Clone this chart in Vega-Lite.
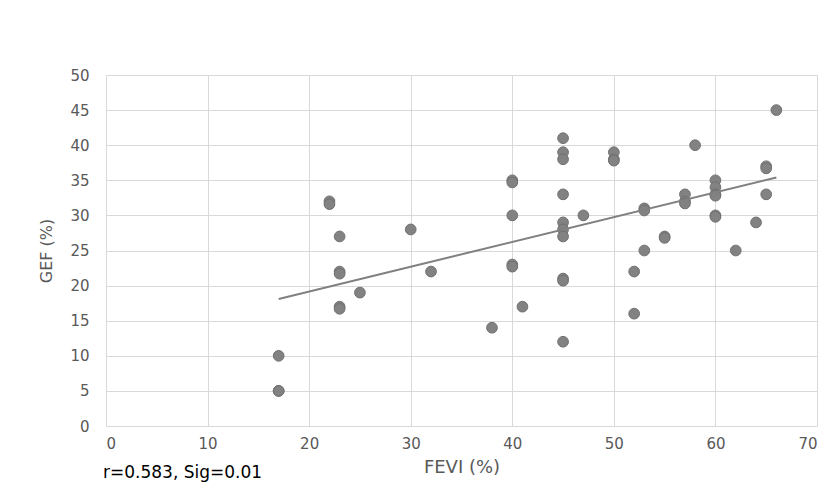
{
  "$schema": "https://vega.github.io/schema/vega-lite/v6.json",
  "autosize": "none",
  "width": 711,
  "height": 351,
  "padding": {"left": 106, "top": 75, "right": 21, "bottom": 77},
  "background": "white",
  "config": {
    "font": "DejaVu Sans",
    "view": {"stroke": null},
    "axis": {
      "labelFont": "DejaVu Sans",
      "titleFont": "DejaVu Sans",
      "labelColor": "#595959",
      "titleColor": "#595959",
      "labelFontSize": 15,
      "titleFontSize": 17,
      "titleFontWeight": "normal",
      "gridColor": "#d9d9d9",
      "gridWidth": 1,
      "domain": false,
      "ticks": false,
      "labelOverlap": false
    }
  },
  "datasets": {
    "pts": [
      {"FEVI": 17, "GEF": 10}, {"FEVI": 17, "GEF": 5}, {"FEVI": 17, "GEF": 5},
      {"FEVI": 22, "GEF": 32}, {"FEVI": 22, "GEF": 31.6},
      {"FEVI": 23, "GEF": 27}, {"FEVI": 23, "GEF": 22}, {"FEVI": 23, "GEF": 21.7},
      {"FEVI": 23, "GEF": 17}, {"FEVI": 23, "GEF": 16.7},
      {"FEVI": 25, "GEF": 19},
      {"FEVI": 30, "GEF": 28},
      {"FEVI": 32, "GEF": 22},
      {"FEVI": 38, "GEF": 14},
      {"FEVI": 40, "GEF": 35}, {"FEVI": 40, "GEF": 34.7}, {"FEVI": 40, "GEF": 30},
      {"FEVI": 40, "GEF": 23}, {"FEVI": 40, "GEF": 22.7},
      {"FEVI": 41, "GEF": 17},
      {"FEVI": 45, "GEF": 41}, {"FEVI": 45, "GEF": 39}, {"FEVI": 45, "GEF": 38},
      {"FEVI": 45, "GEF": 33}, {"FEVI": 45, "GEF": 29}, {"FEVI": 45, "GEF": 28},
      {"FEVI": 45, "GEF": 27}, {"FEVI": 45, "GEF": 21}, {"FEVI": 45, "GEF": 20.7},
      {"FEVI": 45, "GEF": 12},
      {"FEVI": 47, "GEF": 30},
      {"FEVI": 50, "GEF": 39}, {"FEVI": 50, "GEF": 38}, {"FEVI": 50, "GEF": 37.8},
      {"FEVI": 52, "GEF": 22}, {"FEVI": 52, "GEF": 16},
      {"FEVI": 53, "GEF": 31}, {"FEVI": 53, "GEF": 30.7}, {"FEVI": 53, "GEF": 25},
      {"FEVI": 55, "GEF": 27}, {"FEVI": 55, "GEF": 26.8},
      {"FEVI": 57, "GEF": 33}, {"FEVI": 57, "GEF": 32}, {"FEVI": 57, "GEF": 31.7},
      {"FEVI": 58, "GEF": 40},
      {"FEVI": 60, "GEF": 35}, {"FEVI": 60, "GEF": 34}, {"FEVI": 60, "GEF": 33},
      {"FEVI": 60, "GEF": 32.8}, {"FEVI": 60, "GEF": 30}, {"FEVI": 60, "GEF": 29.8},
      {"FEVI": 62, "GEF": 25},
      {"FEVI": 64, "GEF": 29},
      {"FEVI": 65, "GEF": 37}, {"FEVI": 65, "GEF": 36.7}, {"FEVI": 65, "GEF": 33},
      {"FEVI": 66, "GEF": 45}
    ],
    "trend": [
      {"FEVI": 17, "GEF": 18.1},
      {"FEVI": 66, "GEF": 35.4}
    ]
  },
  "title": {
    "text": "r=0.583, Sig=0.01",
    "orient": "bottom",
    "anchor": "start",
    "frame": "group",
    "font": "DejaVu Sans",
    "fontSize": 17,
    "fontWeight": "normal",
    "color": "#000000",
    "dx": -3,
    "dy": -15
  },
  "encoding": {
    "x": {
      "field": "FEVI", "type": "quantitative",
      "scale": {"domain": [0, 70], "nice": false, "zero": true},
      "axis": {"values": [0, 10, 20, 30, 40, 50, 60, 70], "title": "FEVI (%)", "labelPadding": 10, "titlePadding": 7, "titleFontSize": 18}
    },
    "y": {
      "field": "GEF", "type": "quantitative",
      "scale": {"domain": [0, 50], "nice": false},
      "axis": {"values": [0, 5, 10, 15, 20, 25, 30, 35, 40, 45, 50], "title": "GEF (%)", "labelPadding": 17, "titlePadding": 15, "titleFontSize": 16}
    }
  },
  "layer": [
    {
      "data": {"name": "pts"},
      "mark": {"type": "point", "filled": true, "shape": "circle", "size": 115, "color": "#828282", "opacity": 1, "stroke": "#707070", "strokeWidth": 1}
    },
    {
      "data": {"name": "trend"},
      "mark": {"type": "line", "color": "#808080", "strokeWidth": 2}
    }
  ]
}
